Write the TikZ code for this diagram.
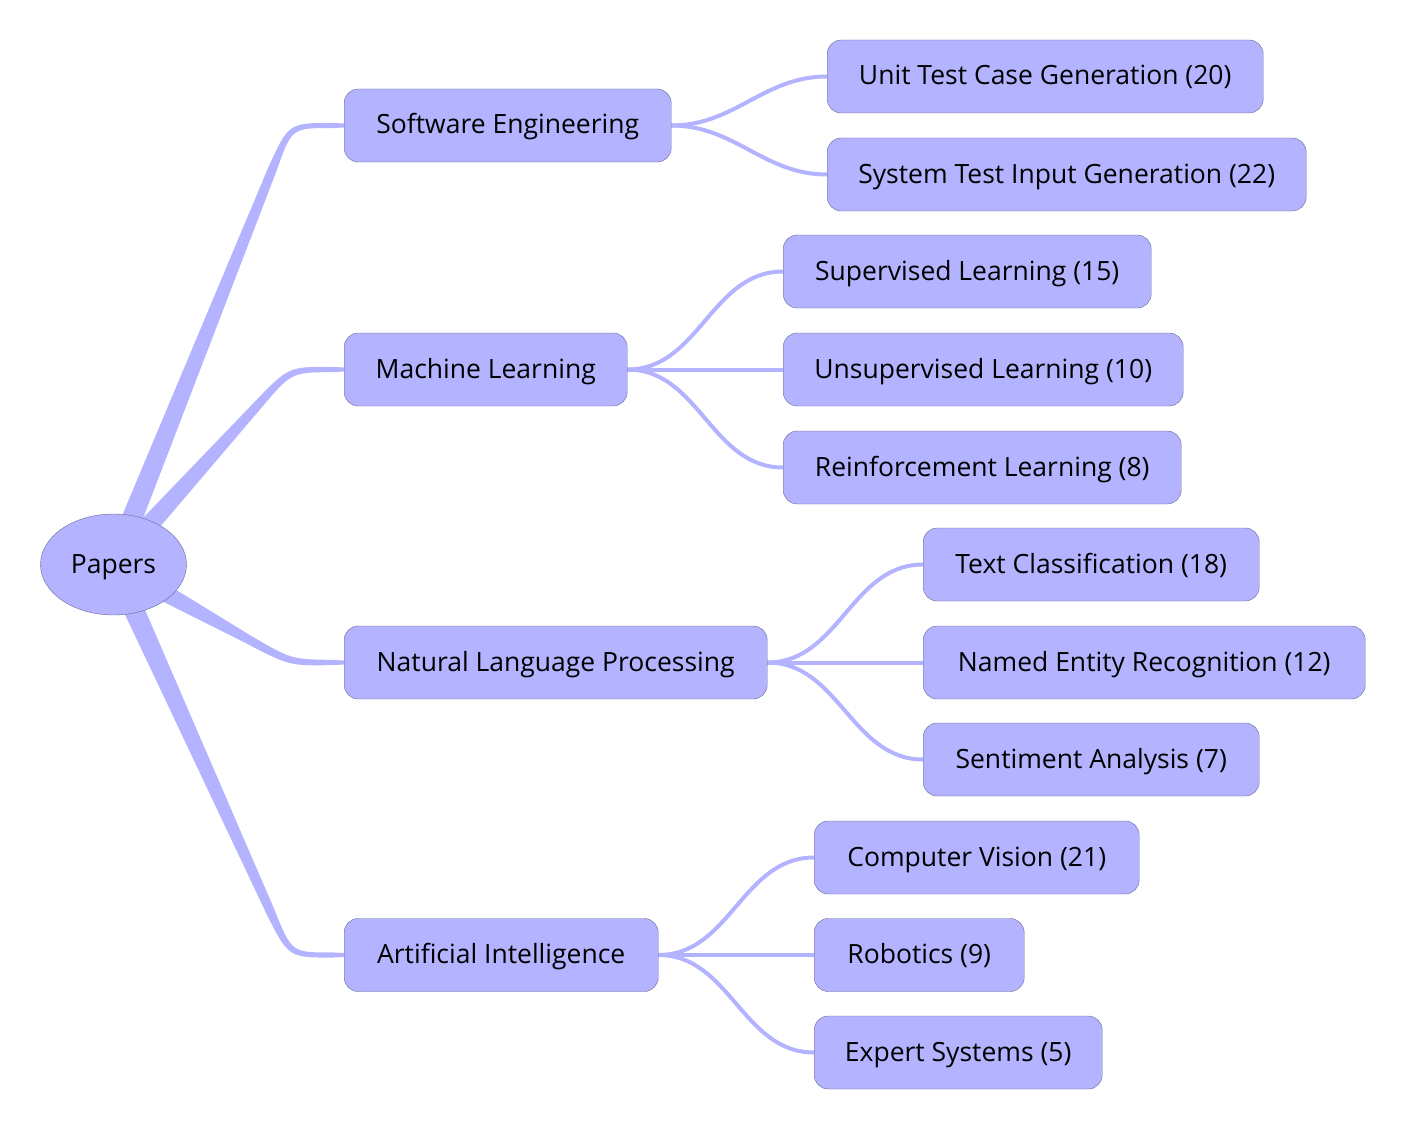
\documentclass[tikz,border=0pt]{standalone}
\usepackage{fontspec}
\setmainfont{Open Sans}
\usetikzlibrary{calc,positioning,shapes.geometric,backgrounds}
\definecolor{mmfill}{RGB}{179,179,255}
\definecolor{mmline}{RGB}{105,105,150}

\begin{document}
\begin{tikzpicture}[
		x=1pt, y=-1pt,
		topic/.style={draw=mmline, fill=mmfill, rounded corners=14pt, minimum height=73pt, inner sep=0pt, text height=22pt, text depth=5pt, anchor=west, font=\fontsize{26.5}{31}\selectfont},
		rootnode/.style={ellipse, draw=mmline, fill=mmfill, minimum width=146pt, minimum height=101pt, inner sep=0pt, text height=22pt, text depth=5pt, font=\fontsize{26.5}{31}\selectfont},
		limb/.style={fill=mmfill},
		twig/.style={draw=mmfill, line width=4pt}
		]
	
		\useasboundingbox (0,0) rectangle (1405,1129);
	
		% tapered branch from the root: corner point, target node
		\def\branch#1#2{%
			\coordinate (k) at #1;
			\coordinate (e) at (#2.west);
			\coordinate (p1) at ($(k)!48pt!(root.center)$);
			\coordinate (p2) at ($(k)!42pt!(e)$);
			\coordinate (ku1) at ($(k)!3.5pt!-90:(p1)$);
			\coordinate (ku2) at ($(k)!3.5pt!90:(p2)$);
			\coordinate (kl1) at ($(k)!3.5pt!90:(p1)$);
			\coordinate (kl2) at ($(k)!3.5pt!-90:(p2)$);
			\fill[limb] ($(root.center)!11pt!90:(k)$) -- ($(p1)!4.5pt!90:(k)$)
				.. controls ($(ku1)!0.5!(ku2)$) .. ($(p2)!2.6pt!90:(e)$)
				-- ($(e)!2pt!-90:(p2)$) -- ($(e)!2pt!90:(p2)$)
				-- ($(p2)!2.6pt!-90:(e)$)
				.. controls ($(kl1)!0.5!(kl2)$) .. ($(p1)!4.5pt!-90:(k)$)
				-- ($(root.center)!11pt!-90:(k)$) -- cycle;}
	
		% --- Root ---
		\node[rootnode] (root) at (113.5, 564.5) {Papers};
	
		% --- Level 1 ---
		\node[topic, minimum width=327pt] (SE) at (344, 125.5) {Software Engineering};
		\node[topic, minimum width=283pt] (ML) at (344, 369.5) {Machine Learning};
		\node[topic, minimum width=423pt] (NLP) at (344, 662.5) {Natural Language Processing};
		\node[topic, minimum width=314pt] (AI) at (344, 955) {Artificial Intelligence};
	
		% --- Level 2 ---
		\node[topic, minimum width=436pt] (UT) at (827, 76.5) {Unit Test Case Generation (20)};
		\node[topic, minimum width=479pt] (ST) at (827, 174.5) {System Test Input Generation (22)};
	
		\node[topic, minimum width=368pt] (SL) at (783, 271.5) {Supervised Learning (15)};
		\node[topic, minimum width=400pt] (UL) at (783, 369.5) {Unsupervised Learning (10)};
		\node[topic, minimum width=398pt] (RL) at (783, 467.5) {Reinforcement Learning (8)};
	
		\node[topic, minimum width=336pt] (TC) at (923, 564.5) {Text Classification (18)};
		\node[topic, minimum width=442pt] (NER) at (923, 662.5) {Named Entity Recognition (12)};
		\node[topic, minimum width=336pt] (SA) at (923, 759.5) {Sentiment Analysis (7)};
	
		\node[topic, minimum width=325pt] (CV) at (814, 857.5) {Computer Vision (21)};
		\node[topic, minimum width=210pt] (RB) at (814, 955) {Robotics (9)};
		\node[topic, minimum width=288pt] (ES) at (814, 1052.5) {Expert Systems (5)};
	
		\begin{scope}[on background layer]
			\branch{(290,125.5)}{SE}
			\branch{(290,369.5)}{ML}
			\branch{(290,662.5)}{NLP}
			\branch{(290,955)}{AI}
	
			\draw[twig] (SE.east) to[out=0, in=180] (UT.west);
			\draw[twig] (SE.east) to[out=0, in=180] (ST.west);
			\draw[twig] (ML.east) to[out=0, in=180] (SL.west);
			\draw[twig] (ML.east) -- (UL.west);
			\draw[twig] (ML.east) to[out=0, in=180] (RL.west);
			\draw[twig] (NLP.east) to[out=0, in=180] (TC.west);
			\draw[twig] (NLP.east) -- (NER.west);
			\draw[twig] (NLP.east) to[out=0, in=180] (SA.west);
			\draw[twig] (AI.east) to[out=0, in=180] (CV.west);
			\draw[twig] (AI.east) -- (RB.west);
			\draw[twig] (AI.east) to[out=0, in=180] (ES.west);
		\end{scope}
	
	\end{tikzpicture}
\end{document}
